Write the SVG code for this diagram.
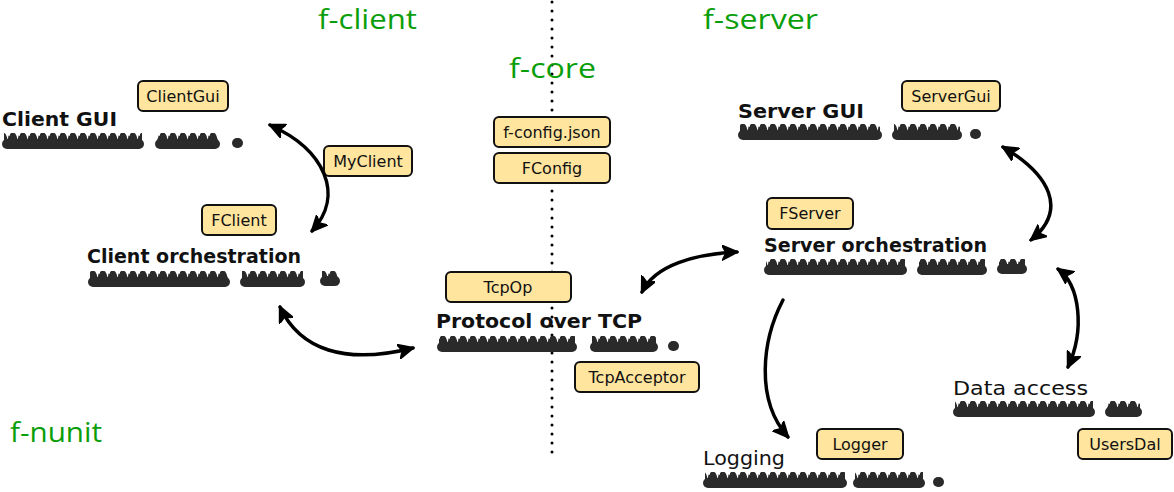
<svg xmlns="http://www.w3.org/2000/svg" width="1174" height="492" viewBox="0 0 1174 492">
<style>
.mod{font-family:"Open Sans","DejaVu Sans",sans-serif;font-size:28px;fill:#0a9e0a}
.lbl{font-family:"DejaVu Sans","Liberation Sans",sans-serif;font-size:20px;font-weight:bold;fill:#111}
.lblr{font-family:"DejaVu Sans","Liberation Sans",sans-serif;font-size:20px;fill:#111}
.box rect{fill:#ffe59e;stroke:#111;stroke-width:2}
.box text{font-family:"DejaVu Sans","Liberation Sans",sans-serif;font-size:16px;fill:#111;text-anchor:middle}
.sb{stroke:#2a2a2a;stroke-width:10;stroke-linecap:round}
.conn path{fill:none;stroke:#000;stroke-width:3.5;stroke-linecap:round}
.div{stroke:#000;stroke-width:3;stroke-dasharray:0 9;stroke-linecap:round}
</style>
<defs>
<pattern id="scrib" patternUnits="userSpaceOnUse" x="0" y="-9" width="10" height="20">
<path d="M-1,11 C1,0 4,0 5,7 C6,14 9,14 11,3" fill="none" stroke="#2a2a2a" stroke-width="5"/>
</pattern>
<marker id="ah" viewBox="-15 -8 17 16" refX="0" refY="0" markerWidth="17" markerHeight="16" markerUnits="userSpaceOnUse" orient="auto-start-reverse">
<path d="M-15,-7.5 L1,0 L-15,7.5 L-11,0 z" fill="#000" stroke="#000" stroke-width="1.5" stroke-linejoin="round"/>
</marker>
</defs>
<rect width="1174" height="492" fill="#fff"/>

<g id="divider"><line class="div" x1="552" y1="2" x2="552" y2="460"/></g>

<g id="modules">
<text class="mod" x="318" y="29" textLength="99" lengthAdjust="spacingAndGlyphs">f-client</text>
<text class="mod" x="703" y="29" textLength="115" lengthAdjust="spacingAndGlyphs">f-server</text>
<text class="mod" x="509" y="78" textLength="87" lengthAdjust="spacingAndGlyphs">f-core</text>
<text class="mod" x="10" y="442" textLength="92" lengthAdjust="spacingAndGlyphs">f-nunit</text>
</g>

<g id="client-gui">
<text class="lbl" x="2" y="126" textLength="115" lengthAdjust="spacingAndGlyphs">Client GUI</text>
<g transform="translate(0,142)">
<line class="sb" x1="7" y1="2" x2="139" y2="2"/><rect x="4" y="-11" width="138" height="20" fill="url(#scrib)"/>
<line class="sb" x1="160" y1="2" x2="215" y2="2"/><rect x="157" y="-11" width="61" height="20" fill="url(#scrib)"/>
<line class="sb" x1="237" y1="1" x2="238" y2="1"/>
</g>
</g>

<g id="client-orchestration">
<text class="lbl" x="87" y="263" textLength="214" lengthAdjust="spacingAndGlyphs">Client orchestration</text>
<g transform="translate(0,280)">
<line class="sb" x1="93" y1="2" x2="225" y2="2"/><rect x="90" y="-11" width="138" height="20" fill="url(#scrib)"/>
<line class="sb" x1="245" y1="2" x2="300" y2="2"/><rect x="242" y="-11" width="61" height="20" fill="url(#scrib)"/>
<line class="sb" x1="325" y1="1" x2="335" y2="1"/><rect x="322" y="-11" width="16" height="20" fill="url(#scrib)"/>
</g>
</g>

<g id="protocol-over-tcp">
<text class="lbl" x="436" y="328" textLength="206" lengthAdjust="spacingAndGlyphs">Protocol over TCP</text>
<g transform="translate(0,345)">
<line class="sb" x1="442" y1="2" x2="572" y2="2"/><rect x="439" y="-11" width="136" height="20" fill="url(#scrib)"/>
<line class="sb" x1="595" y1="2" x2="653" y2="2"/><rect x="592" y="-11" width="64" height="20" fill="url(#scrib)"/>
<line class="sb" x1="673" y1="1" x2="674" y2="1"/>
</g>
</g>

<g id="server-gui">
<text class="lbl" x="738" y="118" textLength="126" lengthAdjust="spacingAndGlyphs">Server GUI</text>
<g transform="translate(0,133)">
<line class="sb" x1="743" y1="2" x2="877" y2="2"/><rect x="740" y="-11" width="140" height="20" fill="url(#scrib)"/>
<line class="sb" x1="897" y1="2" x2="957" y2="2"/><rect x="894" y="-11" width="66" height="20" fill="url(#scrib)"/>
<line class="sb" x1="975" y1="1" x2="976" y2="1"/>
</g>
</g>

<g id="server-orchestration">
<text class="lbl" x="764" y="252" textLength="223" lengthAdjust="spacingAndGlyphs">Server orchestration</text>
<g transform="translate(0,268)">
<line class="sb" x1="769" y1="2" x2="902" y2="2"/><rect x="766" y="-11" width="139" height="20" fill="url(#scrib)"/>
<line class="sb" x1="922" y1="2" x2="982" y2="2"/><rect x="919" y="-11" width="66" height="20" fill="url(#scrib)"/>
<line class="sb" x1="1002" y1="1" x2="1022" y2="1"/><rect x="999" y="-11" width="26" height="20" fill="url(#scrib)"/>
</g>
</g>

<g id="data-access">
<text class="lblr" x="953" y="395" textLength="135" lengthAdjust="spacingAndGlyphs">Data access</text>
<g transform="translate(0,410)">
<line class="sb" x1="958" y1="2" x2="1090" y2="2"/><rect x="955" y="-11" width="138" height="20" fill="url(#scrib)"/>
<line class="sb" x1="1110" y1="2" x2="1137" y2="2"/><rect x="1107" y="-11" width="33" height="20" fill="url(#scrib)"/>
</g>
</g>

<g id="logging">
<text class="lblr" x="703" y="465" textLength="82" lengthAdjust="spacingAndGlyphs">Logging</text>
<g transform="translate(0,481)">
<line class="sb" x1="708" y1="2" x2="842" y2="2"/><rect x="705" y="-11" width="140" height="20" fill="url(#scrib)"/>
<line class="sb" x1="858" y1="2" x2="920" y2="2"/><rect x="855" y="-11" width="68" height="20" fill="url(#scrib)"/>
<line class="sb" x1="938" y1="1" x2="939" y2="1"/>
</g>
</g>

<g id="box-clientgui" class="box"><rect x="138" y="81" width="90" height="30" rx="5"/><text x="183" y="102">ClientGui</text></g>
<g id="box-myclient" class="box"><rect x="324" y="146" width="88" height="30" rx="5"/><text x="368" y="167">MyClient</text></g>
<g id="box-fclient" class="box"><rect x="202" y="205" width="74" height="30" rx="5"/><text x="239" y="226">FClient</text></g>
<g id="box-fconfigjson" class="box"><rect x="494" y="117" width="116" height="30" rx="5"/><text x="552" y="138">f-config.json</text></g>
<g id="box-fconfig" class="box"><rect x="494" y="153" width="116" height="30" rx="5"/><text x="552" y="174">FConfig</text></g>
<g id="box-tcpop" class="box"><rect x="446" y="272" width="125" height="30" rx="5"/><text x="508" y="293">TcpOp</text></g>
<g id="box-tcpacceptor" class="box"><rect x="575" y="362" width="124" height="30" rx="5"/><text x="637" y="383">TcpAcceptor</text></g>
<g id="box-servergui" class="box"><rect x="902" y="81" width="98" height="30" rx="5"/><text x="951" y="102">ServerGui</text></g>
<g id="box-fserver" class="box"><rect x="767" y="198" width="86" height="31" rx="5"/><text x="810" y="219">FServer</text></g>
<g id="box-logger" class="box"><rect x="817" y="429" width="86" height="30" rx="5"/><text x="860" y="450">Logger</text></g>
<g id="box-usersdal" class="box"><rect x="1078" y="429" width="94" height="30" rx="5"/><text x="1125" y="450">UsersDal</text></g>

<g id="connectors" class="conn">
<path d="M270,125 C325,150 345,195 312,231" marker-start="url(#ah)" marker-end="url(#ah)"/>
<path d="M280,307 C300,350 345,365 413,348" marker-start="url(#ah)" marker-end="url(#ah)"/>
<path d="M642,292 C655,265 695,254 737,252" marker-start="url(#ah)" marker-end="url(#ah)"/>
<path d="M1003,147 C1050,175 1068,210 1031,240" marker-start="url(#ah)" marker-end="url(#ah)"/>
<path d="M1058,269 C1080,285 1085,330 1068,367" marker-start="url(#ah)" marker-end="url(#ah)"/>
<path d="M783,300 C762,340 755,400 788,437" marker-end="url(#ah)"/>
</g>
</svg>
